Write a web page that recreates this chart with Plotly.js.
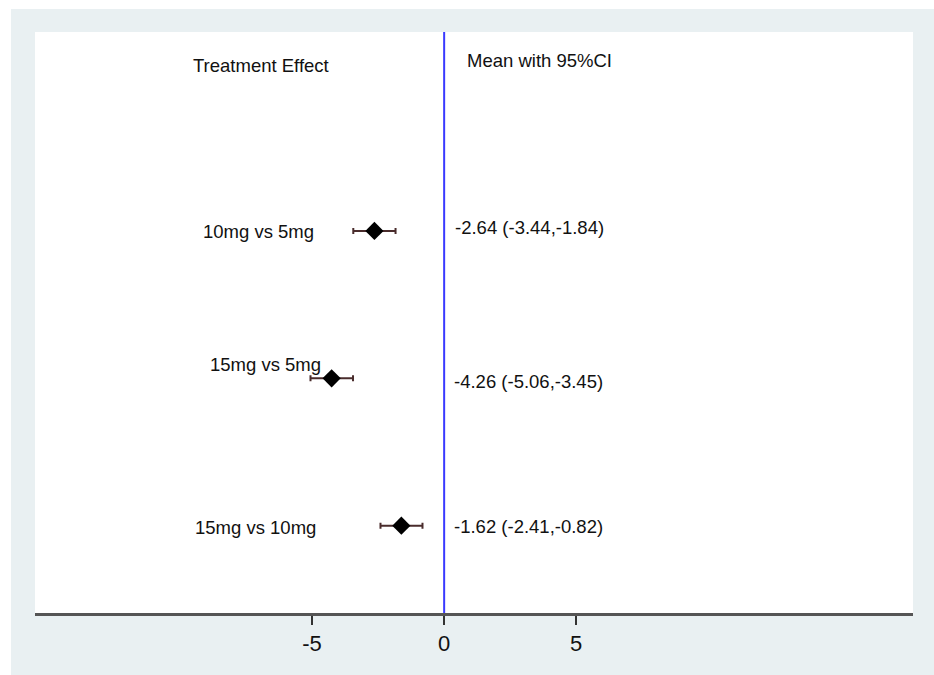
<!DOCTYPE html>
<html>
<head>
<meta charset="utf-8">
<script src="https://cdn.plot.ly/plotly-3.0.1.min.js"></script>
<style>
  html, body { margin: 0; padding: 0; background: #ffffff; width: 934px; height: 675px; overflow: hidden; }
  #chart { position: absolute; left: 11px; top: 9px; width: 923px; height: 666px; }
</style>
</head>
<body>
<div id="chart"></div>
<script>
// ---- data ----
const comparisons = ["10mg vs 5mg", "15mg vs 5mg", "15mg vs 10mg"];
const rowPos = [3, 2, 1];
const means = [-2.64, -4.26, -1.62];
const lower = [-3.44, -5.06, -2.41];
const upper = [-1.84, -3.45, -0.82];
const headerLeft = "Treatment Effect";
const headerRight = "Mean with 95%CI";
const xTicks = [-5, 0, 5];

// ---- layout helpers (positions, not data) ----
const labelX = [-7.01, -6.76, -7.14];
const labelShift = [-1, 14, -2];
const valueX = [0.34, 0.30, 0.30];
const valueShift = [3, -3, -1];

const fontFam = "'Liberation Sans', Arial, sans-serif";
const fmt = v => v.toFixed(2);

const trace = {
  type: 'scatter',
  mode: 'markers',
  x: means,
  y: rowPos,
  marker: { symbol: 'diamond', size: 14, color: '#000000' },
  error_x: {
    type: 'data',
    symmetric: false,
    array: upper.map((u, i) => u - means[i]),
    arrayminus: lower.map((l, i) => means[i] - l),
    color: '#4a2c2c',
    thickness: 2,
    width: 3
  },
  hoverinfo: 'none',
  showlegend: false
};

const annotations = [];
comparisons.forEach((c, i) => {
  annotations.push({
    x: labelX[i], y: rowPos[i], xref: 'x', yref: 'y',
    text: c, showarrow: false, xanchor: 'center', yanchor: 'middle',
    yshift: labelShift[i],
    font: { family: fontFam, size: 18.5, color: '#111111' }
  });
  annotations.push({
    x: valueX[i], y: rowPos[i], xref: 'x', yref: 'y',
    text: fmt(means[i]) + ' (' + fmt(lower[i]) + ',' + fmt(upper[i]) + ')',
    showarrow: false, xanchor: 'left', yanchor: 'middle',
    yshift: valueShift[i],
    font: { family: fontFam, size: 18.5, color: '#111111' }
  });
});
annotations.push({
  x: -6.95, y: 4.125, xref: 'x', yref: 'y', text: headerLeft,
  showarrow: false, xanchor: 'center', yanchor: 'middle',
  font: { family: fontFam, size: 18.5, color: '#111111' }
});
annotations.push({
  x: 0.795, y: 4.159, xref: 'x', yref: 'y', text: headerRight,
  showarrow: false, xanchor: 'left', yanchor: 'middle',
  font: { family: fontFam, size: 18.5, color: '#111111' }
});

const layout = {
  width: 923,
  height: 666,
  paper_bgcolor: '#e9f0f2',
  plot_bgcolor: '#ffffff',
  margin: { l: 24, r: 21, t: 23, b: 62, pad: 0 },
  showlegend: false,
  xaxis: {
    range: [-15.49, 17.75],
    tickvals: xTicks,
    ticktext: xTicks.map(String),
    showgrid: false,
    zeroline: false,
    showline: true,
    linecolor: '#555555',
    linewidth: 2.5,
    ticks: 'outside',
    ticklen: 9,
    tickwidth: 1.5,
    tickcolor: '#333333',
    tickfont: { family: fontFam, size: 22, color: '#111111' },
    fixedrange: true
  },
  yaxis: {
    range: [0.408, 4.349],
    visible: false,
    showgrid: false,
    zeroline: false,
    fixedrange: true
  },
  shapes: [{
    type: 'line', xref: 'x', yref: 'paper',
    x0: 0, x1: 0, y0: 0, y1: 1,
    line: { color: '#3a3aff', width: 2 },
    layer: 'below'
  }],
  annotations: annotations
};

Plotly.newPlot('chart', [trace], layout, { displayModeBar: false, staticPlot: true });
</script>
</body>
</html>
